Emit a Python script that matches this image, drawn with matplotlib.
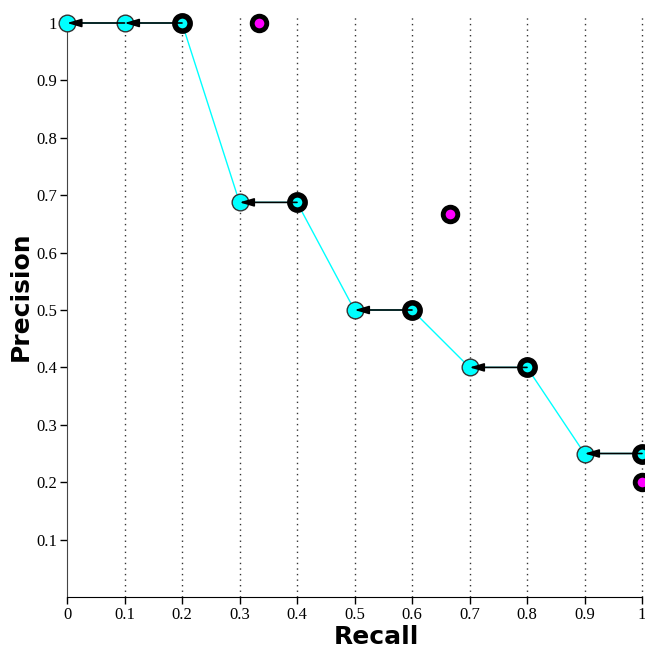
import matplotlib
matplotlib.use("Agg")
import matplotlib.pyplot as plt

recall_levels = [0, 0.1, 0.2, 0.3, 0.4, 0.5, 0.6, 0.7, 0.8, 0.9, 1.0]
interp_precision = [1, 1, 1, 0.6875, 0.6875, 0.5, 0.5, 0.4, 0.4, 0.25, 0.25]
actual_recall = [0.2, 0.4, 0.6, 0.8, 1.0]
actual_precision = [1, 0.6875, 0.5, 0.4, 0.25]
other_recall = [1/3, 2/3, 1.0]
other_precision = [1, 2/3, 0.2]
# arrows: (from recall, to recall, precision)
arrows_from = [0.1, 0.2, 0.4, 0.6, 0.8, 1.0]
arrows_to = [0.0, 0.1, 0.3, 0.5, 0.7, 0.9]
arrows_prec = [1, 1, 0.6875, 0.5, 0.4, 0.25]
xticks = [0, 0.1, 0.2, 0.3, 0.4, 0.5, 0.6, 0.7, 0.8, 0.9, 1]
xticklabels = ['0', '0.1', '0.2', '0.3', '0.4', '0.5', '0.6', '0.7', '0.8', '0.9', '1']
yticks = [0.1, 0.2, 0.3, 0.4, 0.5, 0.6, 0.7, 0.8, 0.9, 1]
yticklabels = ['0.1', '0.2', '0.3', '0.4', '0.5', '0.6', '0.7', '0.8', '0.9', '1']

fig = plt.figure(figsize=(6.45, 6.53), dpi=100)
ax = fig.add_axes([67/645, 1-597/653, 575/645, 574/653])
ax.set_xlim(0, 1)
ax.set_ylim(0, 1)

for x in recall_levels[1:]:
    ax.axvline(x, ymin=0, ymax=1.013, color='#333333', linestyle=(0, (1, 3)), lw=1, clip_on=False, zorder=1)

ax.plot(recall_levels, interp_precision, color='cyan', lw=1, zorder=2, clip_on=False)
ax.plot(recall_levels, interp_precision, 'o', ms=12, mfc='cyan', mec='#333333', mew=1, zorder=3, clip_on=False)
ax.plot(other_recall, other_precision, 'o', ms=10.5, mfc='magenta', mec='black', mew=3.5, zorder=4, clip_on=False)
ax.plot(actual_recall, actual_precision, 'o', ms=11, mfc='cyan', mec='black', mew=4, zorder=5, clip_on=False)

for xf, xt, p in zip(arrows_from, arrows_to, arrows_prec):
    ax.annotate('', xy=(xt, p), xytext=(xf, p),
                arrowprops=dict(arrowstyle='-|>,head_length=0.85,head_width=0.25', color='black', lw=1.2,
                                shrinkA=0, shrinkB=0),
                zorder=7, annotation_clip=False)

for s in ['top', 'right']:
    ax.spines[s].set_visible(False)
ax.spines['left'].set_color('#444444')
ax.spines['bottom'].set_color('black')

ax.set_xticks(xticks)
ax.set_xticklabels(xticklabels, family='Liberation Serif', fontsize=12)
ax.set_yticks(yticks)
ax.set_yticklabels(yticklabels, family='Liberation Serif', fontsize=12)
ax.tick_params(direction='out', length=5, width=1, pad=2)

ax.set_xlabel('Recall', family='DejaVu Sans', fontweight='bold', fontsize=18)
ax.set_ylabel('Precision', family='DejaVu Sans', fontweight='bold', fontsize=18)
ax.xaxis.set_label_coords(0.538, -0.048)
ax.yaxis.set_label_coords(-0.06, 0.524)

fig.savefig('out.png', dpi=100)
